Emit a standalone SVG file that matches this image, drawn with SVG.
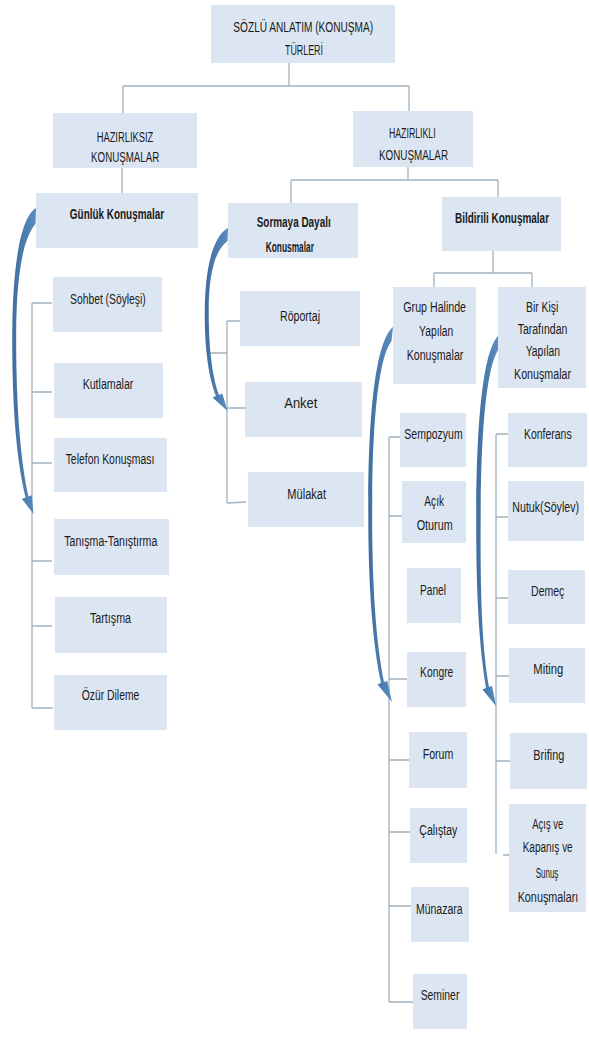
<svg xmlns="http://www.w3.org/2000/svg" width="589" height="1039" viewBox="0 0 589 1039">
<defs>
<linearGradient id="ag" x1="0" y1="0" x2="1" y2="0">
<stop offset="0" stop-color="#3f6e9e"/>
<stop offset="1" stop-color="#5a8cc0"/>
</linearGradient>
</defs>
<style>
.bx{fill:#dce6f2}
.t{font-family:"Liberation Sans",Arial,sans-serif;font-size:14px;fill:#1a1a1a;text-anchor:middle}
.b{font-weight:bold}
.c{fill:none;stroke:#a3b2bf;stroke-width:1.3}
.ar{fill:url(#ag)}
</style>
<rect width="589" height="1039" fill="#ffffff"/>
<g id="connectors">
<path class="c" d="M289 63V86M123 86H409M123 86V113M409 86V111"/>
<path class="c" d="M122 168V193"/>
<path class="c" d="M408 167V180M291 180H498M291 180V203M498 180V197"/>
<path class="c" d="M493 251V273M434 273H532M434 273V287M532 273V287"/>
<path class="c" d="M32 303V708M32 303H52M32 392H52M32 463H52M32 561H52M32 626H52M32 708H53"/>
<path class="c" d="M227 321V503M227 321H240M210 353H227M227 408H245M227 503L246 502"/>
<path class="c" d="M389 437V1002M389 437H403M389 516H402M389 679H407M389 760H409M389 832H410M389 906H411M389 1002H413"/>
<path class="c" d="M496 434V854M496 434H508M496 517H512M496 598H508M496 676H509M496 761H510M503 855H509"/>
<path class="ar" d="M36 208C21 217 13 262 12.3 330C11.8 410 17 462 25.6 497.5L22 499L33.5 514L31.8 495.3L28.4 496.5C21 462 15.8 410 16.2 330C16.7 272 23.5 238 35.5 224Z"/>
<path class="ar" d="M228 228C213.5 236 205.3 265 204.8 310C204.3 350 209 378 216 396L212.5 397.5L227.5 411L222.3 393.5L219 395C212.5 377 208.7 350 208.7 310C208.7 272 215.5 250 227.5 241Z"/>
<path class="ar" d="M393 327C377.5 340 368.8 400 368.3 500C367.8 580 372 640 381 683L377.5 684.5L392 702L387.2 681L384 682C375.5 640 371.7 580 372.2 500C372.7 412 379.5 357 391.5 341Z"/>
<path class="ar" d="M498 336C484.5 350 476.8 410 476.3 510C475.8 590 479 645 486 688L482.5 689.5L496 706L492 686L489 687C481.5 645 480.2 590 480.7 510C481.2 422 487.5 367 498 350Z"/>
</g>
<g id="n-top"><rect class="bx" x="211" y="5" width="184" height="58"/><text class="t" x="303.2" y="31.5" textLength="139.7" lengthAdjust="spacingAndGlyphs">SÖZLÜ ANLATIM (KONUŞMA)</text><text class="t" x="304" y="55" textLength="38" lengthAdjust="spacingAndGlyphs">TÜRLERİ</text></g>
<g id="n-hazirliksiz"><rect class="bx" x="53" y="113" width="144" height="55"/><text class="t" x="125" y="141.7" textLength="56.7" lengthAdjust="spacingAndGlyphs">HAZIRLIKSIZ</text><text class="t" x="125.2" y="162" textLength="68.3" lengthAdjust="spacingAndGlyphs">KONUŞMALAR</text></g>
<g id="n-hazirlikli"><rect class="bx" x="353" y="111" width="120" height="56"/><text class="t" x="412.3" y="138" textLength="46.7" lengthAdjust="spacingAndGlyphs">HAZIRLIKLI</text><text class="t" x="413.5" y="160" textLength="69" lengthAdjust="spacingAndGlyphs">KONUŞMALAR</text></g>
<g id="n-gunluk"><rect class="bx" x="36" y="193" width="162" height="55"/><text class="t b" x="117" y="219" textLength="94.3" lengthAdjust="spacingAndGlyphs">Günlük Konuşmalar</text></g>
<g id="n-sormaya"><rect class="bx" x="228" y="203" width="130" height="55"/><text class="t b" x="293.7" y="226.7" textLength="74" lengthAdjust="spacingAndGlyphs">Sormaya Dayalı</text><text class="t b" x="289.8" y="251.7" textLength="48.3" lengthAdjust="spacingAndGlyphs">Konusmalar</text></g>
<g id="n-bildirili"><rect class="bx" x="442" y="197" width="119" height="54"/><text class="t b" x="502" y="223.3" textLength="94" lengthAdjust="spacingAndGlyphs">Bildirili Konuşmalar</text></g>
<g id="n-grup"><rect class="bx" x="393" y="287" width="83" height="97"/><text class="t" x="434.7" y="311.7" textLength="62.7" lengthAdjust="spacingAndGlyphs">Grup Halinde</text><text class="t" x="436.2" y="336" textLength="34.3" lengthAdjust="spacingAndGlyphs">Yapılan</text><text class="t" x="435" y="360" textLength="56.7" lengthAdjust="spacingAndGlyphs">Konuşmalar</text></g>
<g id="n-birkisi"><rect class="bx" x="498" y="287" width="88" height="101"/><text class="t" x="542.2" y="311.7" textLength="32.3" lengthAdjust="spacingAndGlyphs">Bir Kişi</text><text class="t" x="542.5" y="334" textLength="49.7" lengthAdjust="spacingAndGlyphs">Tarafından</text><text class="t" x="542.8" y="355.7" textLength="34.3" lengthAdjust="spacingAndGlyphs">Yapılan</text><text class="t" x="542.5" y="379" textLength="57" lengthAdjust="spacingAndGlyphs">Konuşmalar</text></g>
<g id="n-sohbet"><rect class="bx" x="53" y="277" width="109" height="55"/><text class="t" x="107.9" y="304.3" textLength="75.7" lengthAdjust="spacingAndGlyphs">Sohbet (Söyleşi)</text></g>
<g id="n-kutlamalar"><rect class="bx" x="54" y="363" width="109" height="55"/><text class="t" x="108" y="389.3" textLength="50.7" lengthAdjust="spacingAndGlyphs">Kutlamalar</text></g>
<g id="n-telefon"><rect class="bx" x="54" y="438" width="113" height="54"/><text class="t" x="110" y="464" textLength="88.7" lengthAdjust="spacingAndGlyphs">Telefon Konuşması</text></g>
<g id="n-tanisma"><rect class="bx" x="54" y="519" width="115" height="56"/><text class="t" x="110.8" y="546" textLength="93" lengthAdjust="spacingAndGlyphs">Tanışma-Tanıştırma</text></g>
<g id="n-tartisma"><rect class="bx" x="55" y="597" width="112" height="56"/><text class="t" x="110.5" y="623.3" textLength="41" lengthAdjust="spacingAndGlyphs">Tartışma</text></g>
<g id="n-ozur"><rect class="bx" x="54" y="675" width="113" height="55"/><text class="t" x="110.5" y="700" textLength="57.7" lengthAdjust="spacingAndGlyphs">Özür Dileme</text></g>
<g id="n-roportaj"><rect class="bx" x="240" y="291" width="120" height="55"/><text class="t" x="300" y="321" textLength="40" lengthAdjust="spacingAndGlyphs">Röportaj</text></g>
<g id="n-anket"><rect class="bx" x="245" y="382" width="117" height="55"/><text class="t" x="300.8" y="408.3" textLength="33" lengthAdjust="spacingAndGlyphs">Anket</text></g>
<g id="n-mulakat"><rect class="bx" x="248" y="472" width="116" height="55"/><text class="t" x="306.7" y="499.3" textLength="38.7" lengthAdjust="spacingAndGlyphs">Mülakat</text></g>
<g id="n-sempozyum"><rect class="bx" x="400" y="413" width="66" height="54"/><text class="t" x="433.5" y="439" textLength="58.3" lengthAdjust="spacingAndGlyphs">Sempozyum</text></g>
<g id="n-acikoturum"><rect class="bx" x="402" y="481" width="64" height="62"/><text class="t" x="434.2" y="505.7" textLength="19.7" lengthAdjust="spacingAndGlyphs">Açık</text><text class="t" x="434.7" y="530" textLength="36" lengthAdjust="spacingAndGlyphs">Oturum</text></g>
<g id="n-panel"><rect class="bx" x="407" y="568" width="54" height="55"/><text class="t" x="433" y="595" textLength="26" lengthAdjust="spacingAndGlyphs">Panel</text></g>
<g id="n-kongre"><rect class="bx" x="407" y="652" width="59" height="55"/><text class="t" x="436.7" y="677" textLength="33.3" lengthAdjust="spacingAndGlyphs">Kongre</text></g>
<g id="n-forum"><rect class="bx" x="409" y="732" width="58" height="56"/><text class="t" x="438" y="759" textLength="30.7" lengthAdjust="spacingAndGlyphs">Forum</text></g>
<g id="n-calistay"><rect class="bx" x="410" y="808" width="57" height="55"/><text class="t" x="438.3" y="835" textLength="38" lengthAdjust="spacingAndGlyphs">Çalıştay</text></g>
<g id="n-munazara"><rect class="bx" x="411" y="887" width="58" height="55"/><text class="t" x="439.3" y="914" textLength="46.7" lengthAdjust="spacingAndGlyphs">Münazara</text></g>
<g id="n-seminer"><rect class="bx" x="413" y="974" width="54" height="55"/><text class="t" x="440" y="1000" textLength="38.7" lengthAdjust="spacingAndGlyphs">Seminer</text></g>
<g id="n-konferans"><rect class="bx" x="508" y="413" width="79" height="54"/><text class="t" x="547.8" y="439" textLength="47.7" lengthAdjust="spacingAndGlyphs">Konferans</text></g>
<g id="n-nutuk"><rect class="bx" x="508" y="481" width="76" height="60"/><text class="t" x="545.7" y="511.7" textLength="66.7" lengthAdjust="spacingAndGlyphs">Nutuk(Söylev)</text></g>
<g id="n-demec"><rect class="bx" x="508" y="570" width="77" height="54"/><text class="t" x="547.7" y="596" textLength="33.3" lengthAdjust="spacingAndGlyphs">Demeç</text></g>
<g id="n-miting"><rect class="bx" x="509" y="648" width="76" height="55"/><text class="t" x="548.3" y="674.3" textLength="30" lengthAdjust="spacingAndGlyphs">Miting</text></g>
<g id="n-brifing"><rect class="bx" x="510" y="733" width="77" height="56"/><text class="t" x="548.8" y="760" textLength="31" lengthAdjust="spacingAndGlyphs">Brifing</text></g>
<g id="n-acis"><rect class="bx" x="509" y="804" width="77" height="108"/><text class="t" x="547.8" y="829" textLength="31" lengthAdjust="spacingAndGlyphs">Açış ve</text><text class="t" x="547.7" y="851.7" textLength="50" lengthAdjust="spacingAndGlyphs">Kapanış ve</text><text class="t" x="547" y="878.3" textLength="22.7" lengthAdjust="spacingAndGlyphs">Sunuş</text><text class="t" x="548" y="901.7" textLength="60.7" lengthAdjust="spacingAndGlyphs">Konuşmaları</text></g>
</svg>
